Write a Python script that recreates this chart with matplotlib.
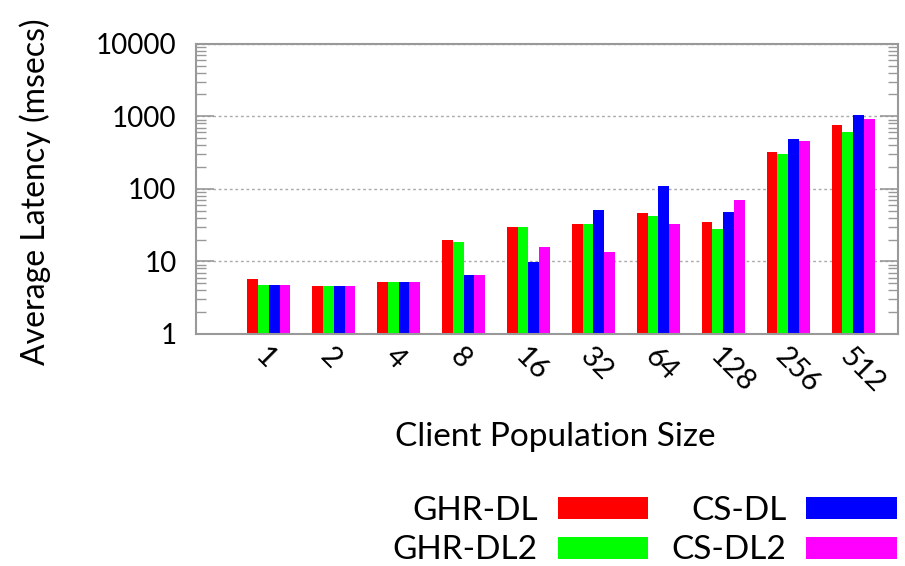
import matplotlib
matplotlib.use("Agg")
import matplotlib.pyplot as plt
import matplotlib.transforms as mtransforms
import numpy as np
from matplotlib.ticker import LogLocator, NullFormatter, FixedLocator

plt.rcParams['font.family'] = ['Lato', 'DejaVu Sans']

categories = ["1", "2", "4", "8", "16", "32", "64", "128", "256", "512"]
series_names = ["GHR-DL", "GHR-DL2", "CS-DL", "CS-DL2"]
ghr_dl = [5.7, 4.6, 5.2, 19.7, 30, 32.7, 47, 35, 320, 750]
ghr_dl2 = [4.7, 4.6, 5.2, 18.3, 30, 32.7, 42.6, 28.2, 300, 612]
cs_dl = [4.7, 4.6, 5.2, 6.6, 9.7, 50.6, 109, 47.5, 490, 1050]
cs_dl2 = [4.7, 4.6, 5.2, 6.6, 16, 13.3, 32.4, 70, 460, 905]
colors = ["#ff0000", "#00ff00", "#0000ff", "#ff00ff"]

fig = plt.figure(figsize=(9.05, 5.66), dpi=100)
W, H = 905, 566
ax = fig.add_axes([196 / W, 1 - 334 / H, (898 - 196) / W, (334 - 43.7) / H])

x = np.arange(len(categories))
bw = 0.167
all_series = [ghr_dl, ghr_dl2, cs_dl, cs_dl2]
for i, (vals, c, name) in enumerate(zip(all_series, colors, series_names)):
    ax.bar(x + (i - 1.5) * bw, vals, width=bw, color=c, label=name, linewidth=0)

ax.set_yscale('log')
ax.set_ylim(1, 10000)
ax.set_xlim(-1.12, 9.69)
ax.yaxis.set_major_locator(FixedLocator([1, 10, 100, 1000, 10000]))
ax.set_yticklabels(["1", "10", "100", "1000", "10000"])
ax.yaxis.set_minor_locator(LogLocator(base=10, subs=np.arange(2, 10), numticks=20))
ax.yaxis.set_minor_formatter(NullFormatter())
ax.tick_params(axis='y', which='major', direction='in', length=13, width=1.2,
               color='#999999', labelsize=20, pad=14, right=True)
ax.tick_params(axis='y', which='minor', direction='in', length=7, width=1,
               color='#999999', right=True)
ax.set_xticks(x)
ax.set_xticklabels(categories, rotation=-45, ha='left', va='center',
                   rotation_mode='anchor', fontsize=21)
ax.tick_params(axis='x', length=0, pad=13)
offset = mtransforms.ScaledTranslation(-9 / 100, 0, fig.dpi_scale_trans)
for lbl in ax.get_xticklabels():
    lbl.set_transform(lbl.get_transform() + offset)

ax.grid(axis='y', which='major', color='#aaaaaa', linestyle=(0, (2, 2)), linewidth=1)
ax.set_axisbelow(True)
for s in ax.spines.values():
    s.set_color('#999999')
    s.set_linewidth(1.5)

fig.text(35 / W, 1 - 192 / H, "Average Latency (msecs)", rotation=90,
         ha='center', va='center', fontsize=23)
fig.text(555 / W, 1 - 437 / H, "Client Population Size", ha='center',
         va='center', fontsize=24)

handles, labels = ax.get_legend_handles_labels()
fig.legend(handles, labels, ncol=2, markerfirst=False, frameon=False,
           loc='upper right', bbox_to_anchor=(897 / W, 1 - 496 / H),
           fontsize=24, handlelength=2.72, handleheight=0.63,
           handletextpad=0.6, columnspacing=0.69, labelspacing=0.28,
           borderpad=0, borderaxespad=0)

fig.savefig("out.png", dpi=100)
